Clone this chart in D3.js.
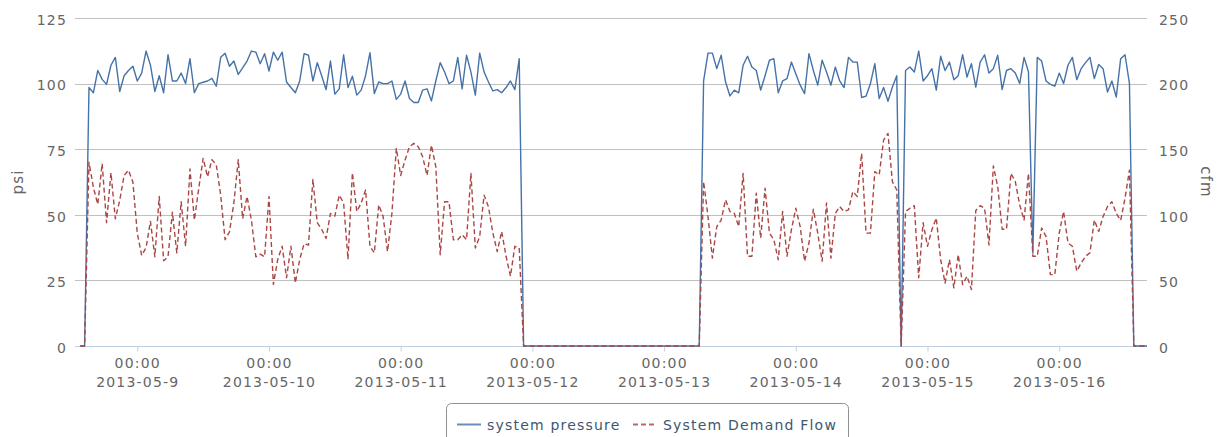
<html>
  <head>
    <title>system pressure / demand flow</title>
    <script src="https://d3js.org/d3.v7.min.js"></script>
    <style>
      body { margin: 0; background: #fff; }
      text { font-family: "DejaVu Sans", Verdana, sans-serif; font-size: 14px; letter-spacing: 1.2px; }
    </style>
  </head>
  <body>
    <svg width="1225" height="437"></svg>
    <script>
    // readings every 48 minutes, starting 2013-05-08 13:36
    var startTime = new Date(2013, 4, 8, 13, 36);
    var stepMinutes = 48;

    // system pressure, psi
    var pressure = [
      0, 0,
      98.5, 96.5, 105, 101.6, 99.7, 107, 110, 97, 103, 105,
      106.6, 101, 104, 112.4, 107, 97, 103, 96.5, 111, 101,
      101, 104, 100, 109.5, 96.5, 100, 100.5, 101, 102, 99,
      110, 111.6, 106.6, 108.6, 103.5, 106, 108.6, 112.4, 112, 107.6,
      111.4, 104.8, 112, 108.9, 112, 100.6, 98.5, 96.5, 101, 111.4,
      110.8, 101, 108, 103, 97.7, 108.6, 96, 98, 111, 98.5,
      102.8, 95.6, 97.5, 103, 111.8, 96.2, 100.6, 100, 100, 101,
      94, 96, 101, 94.3, 92.8, 92.8, 97.5, 98, 93.4, 101,
      108, 104.4, 100, 101, 110, 98, 110.8, 104.4, 95.6, 111.6,
      104.4, 100.6, 97.2, 97.7, 96.5, 98.5, 101, 97.7, 109.5,
      0, 0, 0, 0, 0, 0, 0, 0, 0, 0,
      0, 0, 0, 0, 0, 0, 0, 0, 0, 0,
      0, 0, 0, 0, 0, 0, 0, 0, 0, 0,
      0, 0, 0, 0, 0, 0, 0, 0, 0, 0, 0,
      101, 111.6, 111.6, 105.7, 110.8, 100.6, 95.3, 97.5, 96.5, 107,
      110.4, 106.3, 105, 97.5, 103, 108.9, 109.5, 96.5, 101, 101.9,
      108.2, 103.8, 99.4, 96.2, 111.4, 105, 99.4, 108.9, 104.4, 99.4,
      106.3, 101, 98.5, 110, 108.2, 108.2, 94.7, 95.2, 100, 107.6,
      94.3, 98.5, 93.3, 98.7, 103,
      0,
      105, 106.3, 104.4, 112.4, 101, 103, 105.7, 97.5, 110.4, 105,
      108.2, 101.5, 103, 111, 102.5, 107.6, 98.7, 108.2, 111, 104,
      105.7, 110.8, 97.7, 105, 105.7, 104, 100, 110, 104.4,
      35.4,
      110, 108.6, 101, 99.7, 99, 104, 100, 107, 110, 101.5,
      105.7, 108, 110, 101.9, 107.3, 105.7, 96.8, 101, 94.9, 109.5,
      111, 100,
      0, 0, 0, 0
    ];

    // system demand flow, cfm
    var demandFlow = [
      0, 0,
      140, 121, 108, 139, 94, 132, 97, 111, 130, 134,
      125, 86, 69, 75, 95, 68, 114, 65, 68, 102,
      71, 110, 76, 135, 96, 120, 143, 129, 142, 138,
      115, 81, 87, 109, 142, 97, 114, 96, 68, 70,
      68, 114, 47, 66, 76, 52, 76, 48, 66, 78,
      77, 127, 94, 89, 82, 101, 99, 115, 109, 66,
      132,
      102.5, 109, 119, 76, 71, 107.6, 98.7, 72, 101, 150.6,
      130, 141.8, 151.9, 154.4, 151.9, 144.3, 130, 153, 136.7, 69.6,
      110, 110, 81, 81, 84.8, 81, 131.6, 74.7, 83.5, 115,
      106, 86, 72, 87.3, 68.4, 53.2, 76, 74.7,
      0, 0, 0, 0, 0, 0, 0, 0, 0, 0,
      0, 0, 0, 0, 0, 0, 0, 0, 0, 0,
      0, 0, 0, 0, 0, 0, 0, 0, 0, 0,
      0, 0, 0, 0, 0, 0, 0, 0, 0, 0, 0,
      125.3, 98.7, 67, 91, 96, 111.4, 102.5, 101, 91, 131.6,
      68.4, 68.4, 116.5, 82.3, 120.3, 86, 81, 65.8, 102.5, 68.4,
      88.6, 105, 91, 64.6, 78.5, 104.3, 86, 64.6, 109, 67,
      101, 106.3, 102.5, 103.8, 117.7, 114, 146.8, 86, 86, 133,
      130.4, 157, 162, 125.3, 119,
      0,
      102.5, 105, 107, 52, 94, 76, 88.6, 97.5, 65.8, 48,
      65.8, 44.3, 69.6, 46.8, 53.2, 43, 103.3, 107, 105, 77,
      137.2, 121.5, 89, 89, 131.6, 125.3, 107.6, 96, 131.6,
      68.4,
      68.4, 89.9, 83.5, 54.4, 54.4, 86, 102.5, 78.5, 76, 57,
      63.3, 68.4, 71, 96, 87.3, 98.7, 106.3, 110, 101, 95.7,
      112.7, 134,
      0, 0, 0, 0
    ];

    var psiTicks = [0, 25, 50, 75, 100, 125];
    var cfmTicks = [0, 50, 100, 150, 200, 250];
    var dayTicks = [
      new Date(2013, 4, 9), new Date(2013, 4, 10), new Date(2013, 4, 11), new Date(2013, 4, 12),
      new Date(2013, 4, 13), new Date(2013, 4, 14), new Date(2013, 4, 15), new Date(2013, 4, 16)
    ];
    var seriesNames = ["system pressure", "System Demand Flow"];

    var svg = d3.select("svg");
    svg.append("rect").attr("width", 1225).attr("height", 437).attr("fill", "#fff");

    var plotLeft = 75, plotRight = 1147, plotTop = 18, plotBottom = 346;

    var x = d3.scaleTime()
        .domain([new Date(2013, 4, 8, 12, 39), new Date(2013, 4, 16, 16, 0)])
        .range([plotLeft, plotRight]);
    var yPsi = d3.scaleLinear().domain([0, 125]).range([plotBottom, plotTop]);
    var yCfm = d3.scaleLinear().domain([0, 250]).range([plotBottom, plotTop]);

    var times = pressure.map(function(d, i) { return d3.timeMinute.offset(startTime, i * stepMinutes); });

    // grid
    svg.append("g").selectAll("line")
      .data(psiTicks)
      .enter().append("line")
        .attr("x1", plotLeft).attr("x2", plotRight)
        .attr("y1", function(d) { return Math.round(yPsi(d)) + 0.5; })
        .attr("y2", function(d) { return Math.round(yPsi(d)) + 0.5; })
        .attr("stroke", "#C0C0C0");

    // left axis
    var gl = svg.append("g").attr("transform", "translate(" + plotLeft + ",0)")
      .call(d3.axisLeft(yPsi).tickValues(psiTicks).tickSize(0).tickPadding(8));
    gl.select(".domain").remove();
    gl.selectAll("text").attr("fill", "#666").attr("dy", "0.45em")
      .style("font-size", "14px").style("font-family", "DejaVu Sans");

    // right axis
    var gr = svg.append("g").attr("transform", "translate(" + plotRight + ",0)")
      .call(d3.axisRight(yCfm).tickValues(cfmTicks).tickSize(0).tickPadding(12));
    gr.select(".domain").remove();
    gr.selectAll("text").attr("fill", "#666").attr("dy", "0.45em")
      .style("font-size", "14px").style("font-family", "DejaVu Sans");

    // x axis
    var gx = svg.append("g").attr("transform", "translate(0," + (plotBottom + 0.5) + ")")
      .call(d3.axisBottom(x).tickValues(dayTicks).tickSize(5).tickFormat(""));
    gx.select(".domain").attr("d", "M" + plotLeft + ",0H" + plotRight).attr("stroke", "#C0D0E0");
    gx.selectAll(".tick line").attr("stroke", "#C0D0E0");
    var fmtDay = d3.timeFormat("%Y-%m-%-d");
    gx.selectAll(".tick").each(function(d) {
      var t = d3.select(this).select("text").attr("fill", "#666").attr("y", 0).attr("dy", null)
        .style("font-size", "14px").style("font-family", "DejaVu Sans");
      t.text(null);
      t.append("tspan").attr("x", 0).attr("y", 21).text(d3.timeFormat("%H:%M")(d));
      t.append("tspan").attr("x", 0).attr("y", 40).text(fmtDay(d));
    });

    // axis titles
    svg.append("text")
      .attr("transform", "translate(23,182) rotate(-90)")
      .attr("text-anchor", "middle").attr("fill", "#666").style("font-size", "15px")
      .text("psi");
    svg.append("text")
      .attr("transform", "translate(1201,182) rotate(90)")
      .attr("text-anchor", "middle").attr("fill", "#666").style("font-size", "15px")
      .text("cfm");

    // series
    var linePsi = d3.line()
      .x(function(d, i) { return x(times[i]); })
      .y(function(d) { return yPsi(d); });
    var lineCfm = d3.line()
      .x(function(d, i) { return x(times[i]); })
      .y(function(d) { return yCfm(d); });

    svg.append("path")
      .datum(pressure)
      .attr("d", linePsi)
      .attr("fill", "none")
      .attr("stroke", "#4572A7")
      .attr("stroke-width", 1.4)
      .attr("stroke-linejoin", "round");

    svg.append("path")
      .datum(demandFlow)
      .attr("d", lineCfm)
      .attr("fill", "none")
      .attr("stroke", "#AA4643")
      .attr("stroke-width", 1.4)
      .attr("stroke-dasharray", "5,3")
      .attr("stroke-linejoin", "round");

    // legend
    var lg = svg.append("g");
    lg.append("rect")
      .attr("x", 446.5).attr("y", 403.5).attr("width", 402).attr("height", 44).attr("rx", 5)
      .attr("fill", "#fff").attr("stroke", "#909090");
    var legendItems = [
      {name: seriesNames[0], color: "#4572A7", dash: null, x: 457},
      {name: seriesNames[1], color: "#AA4643", dash: "5,3", x: 633}
    ];
    legendItems.forEach(function(it) {
      lg.append("line")
        .attr("x1", it.x).attr("x2", it.x + 24).attr("y1", 424.5).attr("y2", 424.5)
        .attr("stroke", it.color).attr("stroke-width", 2).attr("stroke-dasharray", it.dash)
        .attr("opacity", 0.8);
      lg.append("text")
        .attr("x", it.x + 30).attr("y", 429.5)
        .attr("fill", "#3E576F")
        .text(it.name);
    });
    </script>
  </body>
</html>
